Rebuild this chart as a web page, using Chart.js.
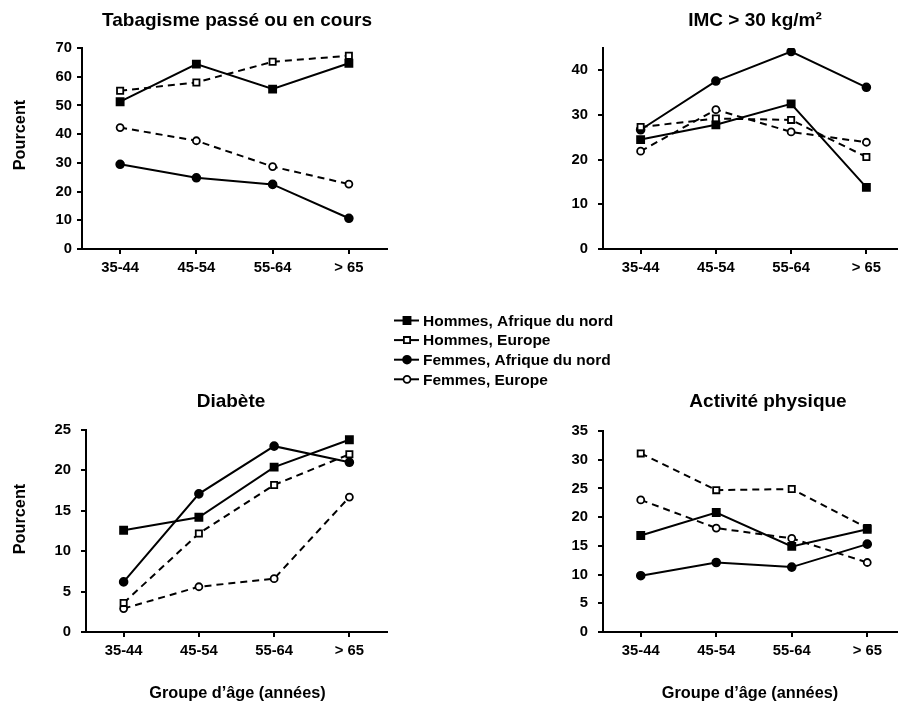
<!DOCTYPE html>
<html lang="fr">
<head>
<meta charset="utf-8">
<title>Facteurs de risque par groupe d'âge</title>
<script src="https://cdn.jsdelivr.net/npm/chart.js@4.4.1/dist/chart.umd.min.js"></script>
<style>
  html, body { margin: 0; padding: 0; background: #fff; overflow: hidden; width: 898px; height: 702px; }
  canvas.panel { position: absolute; left: 0; top: 0; }
</style>
</head>
<body>
<canvas id="tabac" class="panel" width="940" height="702"></canvas>
<canvas id="imc" class="panel" width="940" height="702"></canvas>
<canvas id="diabete" class="panel" width="940" height="702"></canvas>
<canvas id="activite" class="panel" width="940" height="702"></canvas>
<script>
// Groupes d'âge
const ages = ['35-44', '45-54', '55-64', '> 65'];
const seriesNames = ['Hommes, Afrique du nord', 'Hommes, Europe', 'Femmes, Afrique du nord', 'Femmes, Europe'];

// Tabagisme passé ou en cours
const tabacHommesAfrique = [51.3, 64.4, 55.7, 64.7];
const tabacHommesEurope = [55.1, 58.0, 65.2, 67.3];
const tabacFemmesAfrique = [29.5, 24.8, 22.5, 10.7];
const tabacFemmesEurope = [42.3, 37.7, 28.7, 22.6];

// IMC > 30
const imcHommesAfrique = [24.5, 27.8, 32.5, 13.8];
const imcHommesEurope = [27.3, 29.2, 28.9, 20.6];
const imcFemmesAfrique = [26.7, 37.6, 44.2, 36.2];
const imcFemmesEurope = [21.9, 31.2, 26.2, 23.9];

// Diabète
const diabHommesAfrique = [12.6, 14.2, 20.4, 23.8];
const diabHommesEurope = [3.6, 12.2, 18.2, 22.0];
const diabFemmesAfrique = [6.2, 17.1, 23.0, 21.0];
const diabFemmesEurope = [2.9, 5.6, 6.6, 16.7];

// Activité physique
const actHommesAfrique = [16.8, 20.8, 14.9, 17.9];
const actHommesEurope = [31.1, 24.7, 24.9, 18.1];
const actFemmesAfrique = [9.8, 12.1, 11.3, 15.3];
const actFemmesEurope = [23.0, 18.1, 16.3, 12.1];

// Graduations des axes y
const ticksTabac = [0, 10, 20, 30, 40, 50, 60, 70];
const ticksImc = [0, 10, 20, 30, 40];
const ticksDiab = [0, 5, 10, 15, 20, 25];
const ticksAct = [0, 5, 10, 15, 20, 25, 30, 35];

const FONT = "'Liberation Sans', Arial, Helvetica, sans-serif";
Chart.defaults.font.family = FONT;
Chart.defaults.color = '#000';

// style de chaque série (plein/vide, continu/tirets)
const seriesStyles = [
    { pointStyle: 'rect', radius: 5, fill: '#000', dash: [] },
    { pointStyle: 'rect', radius: 4.4, fill: '#fff', dash: [7, 5] },
    { pointStyle: 'circle', radius: 3.9, fill: '#000', dash: [] },
    { pointStyle: 'circle', radius: 3.5, fill: '#fff', dash: [7, 5] }
];

function makeDatasets(list) {
    return list.map((vals, i) => ({
        label: seriesNames[i],
        data: vals,
        borderColor: '#000',
        borderWidth: 2,
        borderDash: seriesStyles[i].dash,
        pointStyle: seriesStyles[i].pointStyle,
        pointRadius: seriesStyles[i].radius,
        pointBackgroundColor: seriesStyles[i].fill,
        pointBorderColor: '#000',
        pointBorderWidth: 1.8,
        tension: 0,
        fill: false
    }));
}

const tickFont = { size: 14.8, weight: 'bold' };

function makeScales(yMax, yTicks, labelPad) {
    return {
        x: {
            offset: true,
            grid: { drawOnChartArea: false, drawTicks: true, tickLength: 5, offset: false, color: '#000', lineWidth: 2 },
            border: { color: '#000', width: 2 },
            ticks: { color: '#000', font: tickFont, padding: 5, maxRotation: 0, autoSkip: false },
            afterFit(s) { s.height = 30; }
        },
        y: {
            min: 0,
            max: yMax,
            grid: { drawOnChartArea: false, drawTicks: true, tickLength: 5, color: '#000', lineWidth: 2 },
            border: { color: '#000', width: 2 },
            ticks: { color: '#000', font: tickFont, padding: labelPad },
            afterBuildTicks(s) { s.ticks = yTicks.map(v => ({ value: v })); },
            afterFit(s) { s.width = 40; }
        }
    };
}

// textes libres (titres des panneaux et des axes)
const textsPlugin = {
    id: 'texts',
    afterDraw(chart, args, opts) {
        const ctx = chart.ctx;
        (opts.items || []).forEach(t => {
            ctx.save();
            ctx.font = t.font;
            ctx.fillStyle = '#000';
            ctx.textAlign = 'center';
            ctx.textBaseline = 'alphabetic';
            ctx.translate(t.x, t.y);
            if (t.rotate) ctx.rotate(t.rotate);
            ctx.fillText(t.text, 0, 0);
            ctx.restore();
        });
    }
};

// légende commune au centre
const sharedLegend = {
    id: 'sharedLegend',
    afterDraw(chart, args, opts) {
        if (!opts.show) return;
        const ctx = chart.ctx;
        seriesNames.forEach((name, i) => {
            const y = opts.y + i * opts.step;
            const st = seriesStyles[i];
            ctx.save();
            ctx.strokeStyle = '#000';
            ctx.lineWidth = 2;
            ctx.beginPath();
            ctx.moveTo(opts.x, y);
            ctx.lineTo(opts.x + 25, y);
            ctx.stroke();
            ctx.fillStyle = st.fill;
            ctx.lineWidth = 1.8;
            Chart.helpers.drawPoint(ctx, { pointStyle: st.pointStyle, radius: st.radius, rotation: 0, borderWidth: 1.8 }, opts.x + 13, y);
            ctx.fillStyle = '#000';
            ctx.font = "bold 15.5px " + FONT;
            ctx.textAlign = 'left';
            ctx.textBaseline = 'middle';
            ctx.fillText(name, opts.x + 29, y + 1);
            ctx.restore();
        });
    }
};

const titleFont = "bold 19px " + FONT;
const axisFont = "bold 16.3px " + FONT;

function makeChart(id, series, yMax, yTicks, labelPad, padding, texts, legend) {
    return new Chart(document.getElementById(id), {
        type: 'line',
        data: { labels: ages, datasets: makeDatasets(series) },
        options: {
            responsive: false,
            animation: false,
            layout: { padding: padding },
            scales: makeScales(yMax, yTicks, labelPad),
            plugins: {
                legend: { display: false },
                tooltip: { enabled: false },
                texts: { items: texts },
                sharedLegend: legend || { show: false }
            }
        },
        plugins: [textsPlugin, sharedLegend]
    });
}

makeChart('tabac',
    [tabacHommesAfrique, tabacHommesEurope, tabacFemmesAfrique, tabacFemmesEurope],
    70, ticksTabac, 5,
    { left: 42, right: 553, top: 48, bottom: 423 },
    [
        { text: 'Tabagisme passé ou en cours', x: 237, y: 26, font: titleFont },
        { text: 'Pourcent', x: 25, y: 135, font: axisFont, rotate: -Math.PI / 2 }
    ],
    { show: true, x: 394, y: 320.5, step: 19.6 });

makeChart('imc',
    [imcHommesAfrique, imcHommesEurope, imcFemmesAfrique, imcFemmesEurope],
    45, ticksImc, 10,
    { left: 563, right: 36, top: 48, bottom: 423 },
    [
        { text: 'IMC > 30 kg/m²', x: 755, y: 26, font: titleFont }
    ]);

makeChart('diabete',
    [diabHommesAfrique, diabHommesEurope, diabFemmesAfrique, diabFemmesEurope],
    25, ticksDiab, 10,
    { left: 46, right: 553, top: 430, bottom: 40 },
    [
        { text: 'Diabète', x: 231, y: 406.5, font: titleFont },
        { text: 'Pourcent', x: 25, y: 519, font: axisFont, rotate: -Math.PI / 2 },
        { text: 'Groupe d’âge (années)', x: 237.5, y: 698, font: axisFont }
    ]);

makeChart('activite',
    [actHommesAfrique, actHommesEurope, actFemmesAfrique, actFemmesEurope],
    35, ticksAct, 10,
    { left: 563, right: 35, top: 431, bottom: 40 },
    [
        { text: 'Activité physique', x: 768, y: 406.5, font: titleFont },
        { text: 'Groupe d’âge (années)', x: 750, y: 698, font: axisFont }
    ]);
</script>
</body>
</html>
